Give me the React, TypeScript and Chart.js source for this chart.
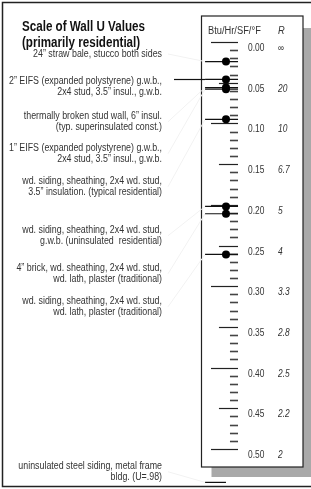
import React, { useEffect, useRef } from "react";
import { Chart, registerables } from "chart.js";

Chart.register(...registerables);

// ---------- data ----------
const TITLE_LINES = ["Scale of Wall U Values", "(primarily residential)"];
const AXIS_HEADER = "Btu/Hr/SF/°F";
const R_HEADER = "R";
const TICK_VALUES = [0, 0.05, 0.1, 0.15, 0.2, 0.25, 0.3, 0.35, 0.4, 0.45, 0.5];
const TICK_LABELS = ["0.00", "0.05", "0.10", "0.15", "0.20", "0.25", "0.30", "0.35", "0.40", "0.45", "0.50"];
const R_LABELS = ["∞", "20", "10", "6.7", "5", "4", "3.3", "2.8", "2.5", "2.2", "2"];
const WALL_LABELS: string[][] = [
  ["24” straw bale, stucco both sides"],
  ["2” EIFS (expanded polystyrene) g.w.b.,", "2x4 stud, 3.5” insul., g.w.b."],
  ["thermally broken stud wall, 6” insul.", "(typ. superinsulated const.)"],
  ["1” EIFS (expanded polystyrene) g.w.b.,", "2x4 stud, 3.5” insul., g.w.b."],
  ["wd. siding, sheathing, 2x4 wd. stud,", "3.5” insulation. (typical residential)"],
  ["wd. siding, sheathing, 2x4 wd. stud,", "g.w.b. (uninsulated  residential)"],
  ["4” brick, wd. sheathing, 2x4 wd. stud,", "wd. lath, plaster (traditional)"],
  ["wd. siding, sheathing, 2x4 wd. stud,", "wd. lath, plaster (traditional)"],
  ["uninsulated steel siding, metal frame", "bldg. (U=.98)"],
];
const WALL_U = [0.024, 0.046, 0.056, 0.058, 0.095, 0.202, 0.211, 0.261, 0.98];

// ---------- layout (pixels / scale units, not data) ----------
const SCALE_MIN = 0;
const SCALE_MAX = 0.5;
const OFF_SCALE_U = 0.541; // where off-scale values are drawn (below the panel)
const LABEL_FIRST_Y = [54, 81, 116, 148, 181, 230, 268, 301, 466];
const LABEL_LINE_H = 11.5;
const LABEL_RIGHT = 162;
const X_LINE0 = 0.04;
const X_DOT = 0.245;
const X_LINE1 = 0.363;
const FONT_FAMILY = '"Liberation Sans", Arial, sans-serif';
const NARROW = 0.885;
const HEADER_NARROW = 0.93;
const TICK_NARROW = 0.84;
const TITLE_NARROW = 0.83;

const shown = (u: number) => (u > SCALE_MAX ? OFF_SCALE_U : u);

function txt(ctx: CanvasRenderingContext2D, s: string, x: number, y: number, align: CanvasTextAlign, sx: number) {
  ctx.save();
  ctx.translate(x, y);
  ctx.scale(sx, 1);
  ctx.textAlign = align;
  ctx.fillText(s, 0, 0);
  ctx.restore();
}

const scaleArt = {
  id: "scaleArt",
  beforeDatasetsDraw(chart: any) {
    const { ctx, chartArea: ca, scales } = chart;
    const xs = scales.x;
    const ys = scales.y;
    const W = chart.width;
    const H = chart.height;
    ctx.save();

    // outer frame
    ctx.strokeStyle = "#222";
    ctx.lineWidth = 1.5;
    ctx.strokeRect(2.5, 2.5, W + 10, H - 5);

    // panel + shadow
    const pTop = ca.top - 26;
    const pBot = ca.bottom + 18;
    const pL = ca.left + 0.5;
    const pR = ca.right;
    ctx.fillStyle = "#a9a9a9";
    ctx.fillRect(pL + 10, pTop + 12, pR - pL, pBot - pTop - 2);
    ctx.fillStyle = "#fff";
    ctx.fillRect(pL, pTop, pR - pL, pBot - pTop);
    ctx.strokeStyle = "#222";
    ctx.lineWidth = 1.2;
    ctx.strokeRect(pL, pTop, pR - pL, pBot - pTop);

    // title
    ctx.fillStyle = "#111";
    ctx.textBaseline = "middle";
    ctx.font = "bold 14px " + FONT_FAMILY;
    txt(ctx, TITLE_LINES[0], 22, 27, "left", TITLE_NARROW);
    txt(ctx, TITLE_LINES[1], 22, 43, "left", TITLE_NARROW);

    // headers
    ctx.fillStyle = "#333";
    ctx.font = "10px " + FONT_FAMILY;
    txt(ctx, AXIS_HEADER, ca.left + 7, 31, "left", HEADER_NARROW);
    ctx.font = "italic 10px " + FONT_FAMILY;
    txt(ctx, R_HEADER, xs.getPixelForValue(0.755), 31, "left", HEADER_NARROW);

    // minor ticks every 0.01
    ctx.strokeStyle = "#444";
    ctx.lineWidth = 1.6;
    for (let i = 1; i < 50; i++) {
      if (i % 5 === 0) continue;
      const y = Math.round(ys.getPixelForValue(i / 100)) + 0.5;
      ctx.beginPath();
      ctx.moveTo(xs.getPixelForValue(0.284), y);
      ctx.lineTo(xs.getPixelForValue(X_LINE1), y);
      ctx.stroke();
    }
    // major ticks + labels
    TICK_VALUES.forEach((v, i) => {
      const y = Math.round(ys.getPixelForValue(v)) + 0.5;
      const long = i % 2 === 0;
      ctx.strokeStyle = "#222";
      ctx.lineWidth = 1.2;
      ctx.beginPath();
      ctx.moveTo(xs.getPixelForValue(long ? 0.098 : 0.176), y);
      ctx.lineTo(xs.getPixelForValue(X_LINE1), y);
      ctx.stroke();
      ctx.fillStyle = "#333";
      ctx.font = "10px " + FONT_FAMILY;
      txt(ctx, TICK_LABELS[i], xs.getPixelForValue(0.461), y + 5.5, "left", TICK_NARROW);
      ctx.font = "italic 10px " + FONT_FAMILY;
      txt(ctx, R_LABELS[i], xs.getPixelForValue(0.755), y + 5.5, "left", TICK_NARROW);
    });

    // wall labels + leaders
    ctx.font = "10px " + FONT_FAMILY;
    WALL_LABELS.forEach((lines, k) => {
      const y0 = LABEL_FIRST_Y[k];
      lines.forEach((t, j) => {
        ctx.fillStyle = "#333";
        txt(ctx, t, LABEL_RIGHT, y0 + j * LABEL_LINE_H, "right", NARROW);
      });
      const dotY = ys.getPixelForValue(shown(WALL_U[k]));
      const lx = xs.getPixelForValue(X_LINE0);
      if (Math.abs(dotY - y0) < 4) {
        ctx.strokeStyle = "#111";
        ctx.lineWidth = 1.2;
        ctx.beginPath();
        ctx.moveTo(LABEL_RIGHT + 12, Math.round(dotY) + 0.5);
        ctx.lineTo(lx, Math.round(dotY) + 0.5);
        ctx.stroke();
      } else {
        const midY = y0 + ((lines.length - 1) * LABEL_LINE_H) / 2;
        ctx.strokeStyle = "#f2f2f2";
        ctx.lineWidth = 1;
        ctx.beginPath();
        ctx.moveTo(LABEL_RIGHT + 6, midY);
        ctx.lineTo(lx, dotY);
        ctx.stroke();
      }
    });
    ctx.restore();
  },
};

export default function App() {
  const ref = useRef<HTMLCanvasElement>(null);
  useEffect(() => {
    if (!ref.current) return;
    const lineSets = WALL_U.map((u) => ({
      type: "line" as const,
      data: [
        { x: X_LINE0, y: shown(u) },
        { x: u > SCALE_MAX ? X_DOT : X_LINE1, y: shown(u) },
      ],
      borderColor: "#111",
      borderWidth: 1.2,
      pointRadius: 0,
      showLine: true,
      clip: false as any,
      order: 2,
    }));
    const dots = {
      type: "scatter" as const,
      data: WALL_U.map((u) => ({ x: X_DOT, y: shown(u) })),
      backgroundColor: "#000",
      borderColor: "#000",
      pointRadius: 4,
      borderWidth: 0,
      clip: false as any,
      order: 0,
    };
    const chart = new Chart(ref.current, {
      type: "scatter",
      data: { datasets: [dots as any, ...lineSets] },
      options: {
        animation: false,
        responsive: false,
        devicePixelRatio: 1,
        layout: { padding: { left: 201, right: 8, top: 42, bottom: 40 } },
        scales: {
          x: { type: "linear", min: 0, max: 1, display: false },
          y: { type: "linear", min: SCALE_MIN, max: SCALE_MAX, reverse: true, display: false },
        },
        plugins: { legend: { display: false }, tooltip: { enabled: false } },
        events: [],
      },
      plugins: [scaleArt],
    });
    return () => chart.destroy();
  }, []);
  return (
    <div style={{ position: "fixed", left: 0, top: 0, width: 311, height: 489, background: "#fff" }}>
      <canvas ref={ref} width={311} height={489} style={{ display: "block" }} />
    </div>
  );
}
